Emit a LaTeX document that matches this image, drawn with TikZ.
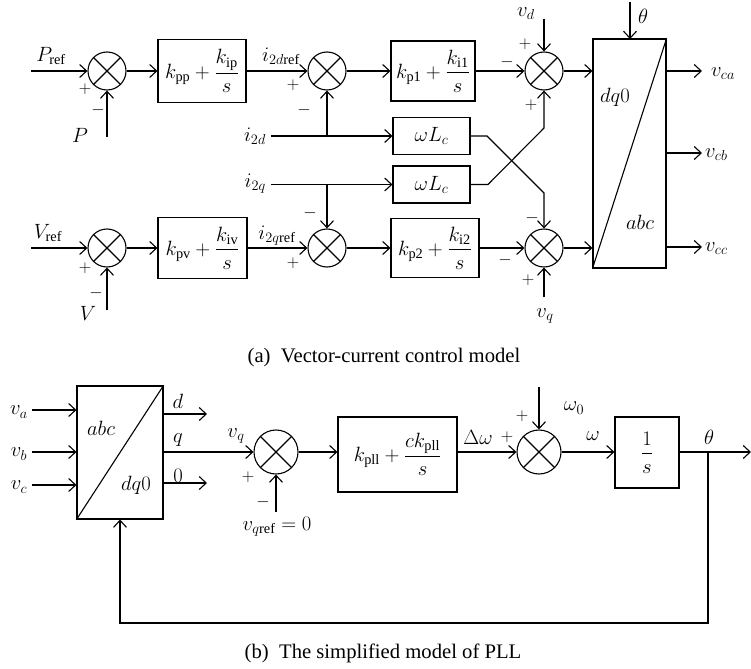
\documentclass[tikz,border=0pt]{standalone}
\usepackage{amsmath}
\usepackage{fontspec}
\setmainfont{Liberation Serif}
\usetikzlibrary{arrows.meta}
\newcommand{\fs}{\fontsize{20.74}{24}\selectfont}
\newcommand{\fsg}{\fontsize{17.28}{20}\selectfont}
\begin{document}
\begin{tikzpicture}[x=1bp,y=-1bp,
  every node/.style={font=\fs},
  blk/.style={draw, line width=1.1bp, inner sep=0pt, align=center},
  sumnode/.style={circle, draw, line width=1.1bp, minimum size=38bp, inner sep=0pt,
    path picture={\draw[line width=1.1bp] (path picture bounding box.north west) -- (path picture bounding box.south east)
      (path picture bounding box.north east) -- (path picture bounding box.south west);}},
  ln/.style={line width=1.1bp},
  ar/.style={ln, -{Straight Barb[length=7bp,width=13bp]}},
  sg/.style={inner sep=0pt, font=\fsg},
  lb/.style={inner sep=0pt}]
\useasboundingbox (0,0) rectangle (751,669);

% ---------------- (a) ----------------
\node[sumnode] (S1) at (107,71) {};
\node[sumnode] (S2) at (327,71) {};
\node[sumnode] (S3) at (544,71) {};
\node[sumnode] (S4) at (107,248) {};
\node[sumnode] (S5) at (327,248) {};
\node[sumnode] (S6) at (544,248) {};

\node[blk, minimum width=88bp, minimum height=63bp] (B1) at (202,71) {$k_{\mathrm{pp}} + \dfrac{k_{\mathrm{ip}}}{s}$};
\node[blk, minimum width=84bp, minimum height=60bp] (B2) at (433,71) {$k_{\mathrm{p1}} + \dfrac{k_{\mathrm{i1}}}{s}$};
\node[blk, minimum width=89bp, minimum height=61bp] (B3) at (202.5,248) {$k_{\mathrm{pv}} + \dfrac{k_{\mathrm{iv}}}{s}$};
\node[blk, minimum width=88bp, minimum height=59bp] (B4) at (435,248) {$k_{\mathrm{p2}} + \dfrac{k_{\mathrm{i2}}}{s}$};
\node[blk, minimum width=77bp, minimum height=37bp] (W1) at (431.5,136) {$\omega L_c$};
\node[blk, minimum width=77bp, minimum height=37bp] (W2) at (431.5,184.5) {$\omega L_c$};
\node[blk, minimum width=73bp, minimum height=229bp] (T1) at (629.5,153.5) {};
\draw[ln] (T1.south west) -- (T1.north east);
\node[lb] (T1a) at (615,97) {$dq0$};
\node[lb] (T1b) at (640,222) {$abc$};

% inputs
\coordinate (Pin) at (31,71);
\coordinate (Pfb) at (107,137);
\coordinate (Vin) at (31,248);
\coordinate (Vfb) at (107,310);
\coordinate (i2d) at (271,136);
\coordinate (i2q) at (271,184.5);
\coordinate (jd) at (327,136);
\coordinate (jq) at (327,184.5);
\coordinate (vdin) at (544,19);
\coordinate (vqin) at (544,297);
\coordinate (thin) at (630,2);
\coordinate (th2) at (630,39);

\draw[ar] (Pin) -- (S1.west);
\draw[ar] (Pfb) -- (S1.south);
\draw[ar] (S1.east) -- (B1.west);
\draw[ar] (B1.east) -- (S2.west);
\draw[ar] (S2.east) -- (B2.west);
\draw[ar] (B2.east) -- (S3.west);
\draw[ar] (vdin) -- (S3.north);
\draw[ar] (S3.east) -- (S3.east -| T1.west);
\draw[ar] (thin) -- (th2);

\draw[ar] (i2d) -- (W1.west);
\draw[ar] (jd) -- (S2.south);
\draw[ar] (i2q) -- (W2.west);
\draw[ar] (jq) -- (S5.north);

\draw[ar] (W1.east) -- (487,136) -- (544,193) -- (S6.north);
\draw[ar] (W2.east) -- (488,184.5) -- (544,128) -- (S3.south);

\draw[ar] (Vin) -- (S4.west);
\draw[ar] (Vfb) -- (S4.south);
\draw[ar] (S4.east) -- (B3.west);
\draw[ar] (B3.east) -- (S5.west);
\draw[ar] (S5.east) -- (B4.west);
\draw[ar] (B4.east) -- (S6.west);
\draw[ar] (vqin) -- (S6.south);
\draw[ar] (S6.east) -- (S6.east -| T1.west);

\coordinate (oa) at (702,71);
\coordinate (ob) at (702,153);
\coordinate (oc) at (702,247);
\draw[ar] (oa -| T1.east) -- (oa);
\draw[ar] (ob -| T1.east) -- (ob);
\draw[ar] (oc -| T1.east) -- (oc);
\node[lb, anchor=west] (Lva) at (711,74) {$v_{ca}$};
\node[lb, anchor=west] (Lvb) at (705,155) {$v_{cb}$};
\node[lb, anchor=west] (Lvc) at (705,249) {$v_{cc}$};

\node[lb] (Lpref) at (51,56) {$P_{\mathrm{ref}}$};
\node[lb] (LP) at (80,135) {$P$};
\node[lb] (Li2dref) at (281,56) {$i_{2d\mathrm{ref}}$};
\node[lb, anchor=east] (Li2d) at (266,136) {$i_{2d}$};
\node[lb, anchor=east] (Li2q) at (266,184) {$i_{2q}$};
\node[lb, anchor=north] (Lvd) at (526,7) {$v_d$};
\node[lb] (Lth) at (643,16) {$\theta$};
\node[lb] (Lvref) at (48,233) {$V_{\mathrm{ref}}$};
\node[lb] (LV) at (88,313) {$V$};
\node[lb] (Li2qref) at (277,236) {$i_{2q\mathrm{ref}}$};
\node[lb] (Lvq) at (545,316) {$v_q$};

\node[sg] at (85,89) {$+$};
\node[sg] at (98,110) {$-$};
\node[sg] at (293,85) {$+$};
\node[sg] at (304,110) {$-$};
\node[sg] at (525,44) {$+$};
\node[sg] at (507,62) {$-$};
\node[sg] at (531,105) {$+$};
\node[sg] at (85,268) {$+$};
\node[sg] at (96,293) {$-$};
\node[sg] at (310,213) {$-$};
\node[sg] at (293,263) {$+$};
\node[sg] at (532,218) {$-$};
\node[sg] at (505,260) {$-$};
\node[sg] at (528,280) {$+$};

\node[lb] (capa) at (384,358) {(a)\enspace Vector-current control model};

% ---------------- (b) ----------------
\node[blk, minimum width=86bp, minimum height=133bp] (T2) at (120,452.5) {};
\draw[ln] (T2.south west) -- (T2.north east);
\node[lb] (T2a) at (101,428) {$abc$};
\node[lb] (T2b) at (136,485) {$dq0$};

\coordinate (vain) at (32,410);
\coordinate (vbin) at (32,452);
\coordinate (vcin) at (32,485);
\draw[ar] (vain) -- (vain -| T2.west);
\draw[ar] (vbin) -- (vbin -| T2.west);
\draw[ar] (vcin) -- (vcin -| T2.west);
\node[lb] (Lva2) at (19,412) {$v_a$};
\node[lb] (Lvb2) at (19,454) {$v_b$};
\node[lb] (Lvc2) at (19,487) {$v_c$};

\coordinate (dout) at (207,414);
\coordinate (zout) at (207,483);
\draw[ar] (dout -| T2.east) -- (dout);
\draw[ar] (zout -| T2.east) -- (zout);
\node[lb] (Ld) at (178,401) {$d$};
\node[lb] (Lq) at (178,440) {$q$};
\node[lb] (L0) at (178,476) {$0$};

\node[sumnode, minimum size=44bp] (S7) at (276,452) {};
\node[blk, minimum width=119bp, minimum height=75bp] (B5) at (397.5,454.5) {$k_{\mathrm{pll}} + \dfrac{ck_{\mathrm{pll}}}{s}$};
\node[sumnode, minimum size=44bp] (S8) at (539,452) {};
\node[blk, minimum width=64bp, minimum height=71bp] (B6) at (647,452.5) {$\dfrac{1}{s}$};

\draw[ar] (S7.west -| T2.east) -- (S7.west);
\coordinate (vqr) at (276,512);
\draw[ar] (vqr) -- (S7.south);
\draw[ar] (S7.east) -- (S7.east -| B5.west);
\draw[ar] (S7.east -| B5.east) -- (S8.west);
\coordinate (w0in) at (539,387);
\draw[ar] (w0in) -- (S8.north);
\draw[ar] (S8.east) -- (S8.east -| B6.west);
\coordinate (thout) at (751,452);
\coordinate (J) at (708,452);
\coordinate (fb1) at (708,623);
\coordinate (fb2) at (120,623);
\draw[ar] (S8.east -| B6.east) -- (thout);
\draw[ar] (J) -- (fb1) -- (fb2) -- (T2.south);

\node[lb] (Lvq2) at (236,436) {$v_q$};
\node[sg] at (248,477) {$+$};
\node[sg] at (263,502) {$-$};
\node[lb] (Lvqref) at (277,527) {$v_{q\mathrm{ref}} = 0$};
\node[lb] (Ldw) at (478,437) {$\Delta\omega$};
\node[sg] at (507,437) {$+$};
\node[sg] at (522,416) {$+$};
\node[lb] (Lw0) at (574,408) {$\omega_0$};
\node[lb] (Lw) at (593,436) {$\omega$};
\node[lb] (Lth2) at (709,437) {$\theta$};

\node[lb] (capb) at (383,653) {(b)\enspace The simplified model of PLL};
\end{tikzpicture}
\end{document}
